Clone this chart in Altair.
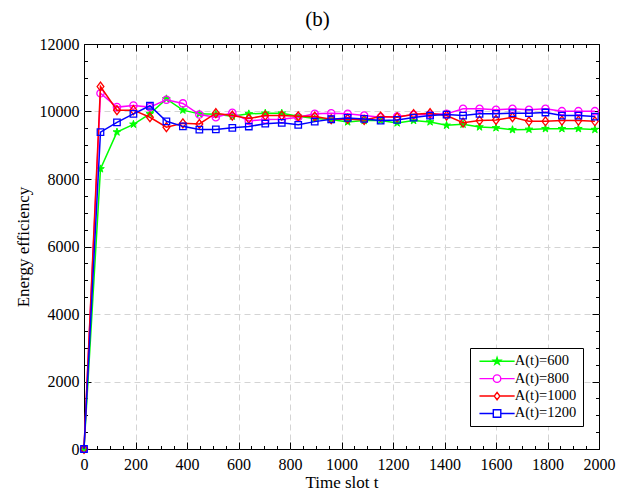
import altair as alt
import pandas as pd

# ---------------- data ----------------
t = [0, 64, 128, 192, 256, 320, 384, 448, 512, 576, 640, 704, 768, 832, 896, 960,
     1024, 1088, 1152, 1216, 1280, 1344, 1408, 1472, 1536, 1600, 1664, 1728, 1792,
     1856, 1920, 1984]

ee_600 = [0, 8300, 9390, 9620, 9930, 10375, 10040, 9930, 9920, 9860, 9930, 9950,
          9950, 9860, 9790, 9760, 9690, 9730, 9730, 9660, 9730, 9690, 9590, 9620,
          9540, 9515, 9460, 9470, 9490, 9490, 9490, 9465]
ee_800 = [0, 10540, 10130, 10180, 10130, 10350, 10240, 9910, 9830, 9960, 9720, 9760,
          9770, 9830, 9930, 9950, 9930, 9880, 9830, 9850, 9900, 9910, 9930, 10080,
          10080, 10050, 10080, 10050, 10080, 10010, 10010, 10010]
ee_1000 = [0, 10740, 10040, 10040, 9830, 9535, 9650, 9630, 9950, 9880, 9790, 9880,
           9880, 9860, 9850, 9770, 9780, 9750, 9850, 9830, 9920, 9950, 9880, 9670,
           9730, 9750, 9830, 9710, 9710, 9730, 9730, 9710]
ee_1200 = [0, 9390, 9680, 9930, 10170, 9710, 9560, 9465, 9470, 9515, 9555, 9640,
           9665, 9605, 9700, 9770, 9810, 9780, 9730, 9750, 9820, 9880, 9910, 9880,
           9930, 9930, 9950, 9950, 9970, 9880, 9880, 9850]

series_names = ["A(t)=600", "A(t)=800", "A(t)=1000", "A(t)=1200"]
series_values = [ee_600, ee_800, ee_1000, ee_1200]

x_tick_values = list(range(0, 2001, 50))
y_tick_values = list(range(0, 12001, 500))

# ---------------- styles ----------------
colors = ["#00ff00", "#ff00ff", "#ff0000", "#0000ff"]
STAR = ("M0,-1L0.2245,-0.309L0.951,-0.309L0.363,0.118L0.588,0.809L0,0.382"
        "L-0.588,0.809L-0.363,0.118L-0.951,-0.309L-0.2245,-0.309Z")
DIAMOND = "M-0.75,0L0,-1L0.75,0L0,1Z"
plot_shapes = [STAR, "circle", DIAMOND, "square"]
plot_sizes = [64, 53, 81, 42]
plot_filled = [True, False, False, False]

L = "4.7"
leg_shapes = [
    f"M-{L},0L{L},0" + STAR,
    f"M-{L},0L-1,0M1,0L{L},0M1,0A1,1,0,1,1,-1,0A1,1,0,1,1,1,0Z",
    f"M-{L},0L-0.75,0M0.75,0L{L},0" + DIAMOND,
    f"M-{L},0L-1,0M1,0L{L},0M-1,-1L1,-1L1,1L-1,1Z",
]
leg_fills = ["#00ff00", "transparent", "transparent", "transparent"]

FONT = "Liberation Serif"

rows = []
for name, vals in zip(series_names, series_values):
    for tt, v in zip(t, vals):
        rows.append({"t": tt, "ee": v, "series": name})
df = pd.DataFrame(rows)

xscale = alt.Scale(domain=[0, 2000], nice=False, zero=False)
yscale = alt.Scale(domain=[0, 12000], nice=False, zero=False)

TICK = 7
major_x = "datum.value % 200 === 0"
major_y = "datum.value % 2000 === 0"


def tick_dash(test):
    return {"condition": {"test": test, "value": [TICK, 0]},
            "value": [0, TICK / 2, TICK / 2]}


def grid_color(test, lo, hi):
    return {"condition": {"test": f"{test} && datum.value > {lo} && datum.value < {hi}",
                          "value": "#d4d4d4"},
            "value": "transparent"}


ax_bottom = alt.Axis(
    orient="bottom", values=x_tick_values, format="d",
    labelExpr=f"{major_x} ? datum.label : ''",
    labelOverlap=False, labelFlush=False,
    grid=True, gridColor=grid_color(major_x, 0, 2000), gridDash=[6, 4], gridWidth=1,
    domain=False, offset=-TICK, tickSize=TICK, tickColor="black", tickWidth=1,
    tickDash=tick_dash(major_x),
    labelFont=FONT, labelFontSize=16, labelColor="black", labelPadding=7,
    title="Time slot t", titleFont=FONT, titleFontSize=17, titleFontWeight="normal",
    titleColor="black", titlePadding=2,
)
ax_left = alt.Axis(
    orient="left", values=y_tick_values, format="d",
    labelExpr=f"{major_y} ? datum.label : ''",
    labelOverlap=False, labelFlush=False,
    grid=True, gridColor=grid_color(major_y, 0, 12000), gridDash=[6, 4], gridWidth=1,
    domain=False, offset=-TICK, tickSize=TICK, tickColor="black", tickWidth=1,
    tickDash=tick_dash(major_y),
    labelFont=FONT, labelFontSize=16, labelColor="black", labelPadding=5,
    title="Energy efficiency", titleFont=FONT, titleFontSize=17,
    titleFontWeight="normal", titleColor="black", titlePadding=7,
)
ax_top = alt.Axis(
    orient="top", values=x_tick_values, labels=False, grid=False, domain=False,
    offset=-TICK, tickSize=TICK, tickColor="black", tickWidth=1,
    tickDash=tick_dash(major_x), title=None,
)
ax_right = alt.Axis(
    orient="right", values=y_tick_values, labels=False, grid=False, domain=False,
    offset=-TICK, tickSize=TICK, tickColor="black", tickWidth=1,
    tickDash=tick_dash(major_y), title=None,
)

base = alt.Chart(df)
layers = []
for i, (name, col) in enumerate(zip(series_names, colors)):
    sub = base.transform_filter(alt.datum.series == name)
    line = sub.mark_line(color=col, strokeWidth=1.5).encode(
        x=alt.X("t:Q", scale=xscale, axis=ax_bottom if i == 0 else None),
        y=alt.Y("ee:Q", scale=yscale, axis=ax_left if i == 0 else None),
        order="t:Q",
    )
    if plot_filled[i]:
        pmark = sub.mark_point(shape=plot_shapes[i], size=plot_sizes[i], fill=col,
                               stroke=col, strokeWidth=1, opacity=1)
    else:
        pmark = sub.mark_point(shape=plot_shapes[i], size=plot_sizes[i], filled=False,
                               color=col, strokeWidth=1.3, opacity=1)
    pts = pmark.encode(
        x=alt.X("t:Q", scale=xscale, axis=None),
        y=alt.Y("ee:Q", scale=yscale, axis=None),
    )
    layers += [line, pts]

leg = alt.Legend(
    title=None, orient="none", legendX=386, legendY=304,
    strokeColor="black", fillColor="white", padding=6,
    symbolSize=56, symbolStrokeWidth=1.4, symbolOffset=13.8, labelOffset=10.5,
    labelFont=FONT, labelFontSize=14.5, labelColor="black", rowPadding=2.4,
)
legend_layer = base.transform_filter("false").mark_point(opacity=1, strokeWidth=1.4).encode(
    x=alt.X("t:Q", scale=xscale, axis=ax_top),
    y=alt.Y("ee:Q", scale=yscale, axis=ax_right),
    color=alt.Color("series:N", scale=alt.Scale(domain=series_names, range=colors), legend=leg),
    shape=alt.Shape("series:N", scale=alt.Scale(domain=series_names, range=leg_shapes), legend=leg),
    fill=alt.Fill("series:N", scale=alt.Scale(domain=series_names, range=leg_fills), legend=leg),
)
layers.append(legend_layer)

chart = alt.layer(*layers).resolve_axis(x="independent", y="independent").properties(
    width=515, height=405,
    autosize=alt.AutoSizeParams(type="none"),
    padding={"left": 84, "top": 44, "right": 27, "bottom": 44},
    title=alt.TitleParams("(b)", font=FONT, fontSize=21, fontWeight="normal",
                          color="black", frame="group", anchor="middle", offset=6, dx=-24),
    background="white",
).configure_view(stroke="black", strokeWidth=1)

chart.save("out.html", embed_options={"renderer": "svg", "actions": False})
